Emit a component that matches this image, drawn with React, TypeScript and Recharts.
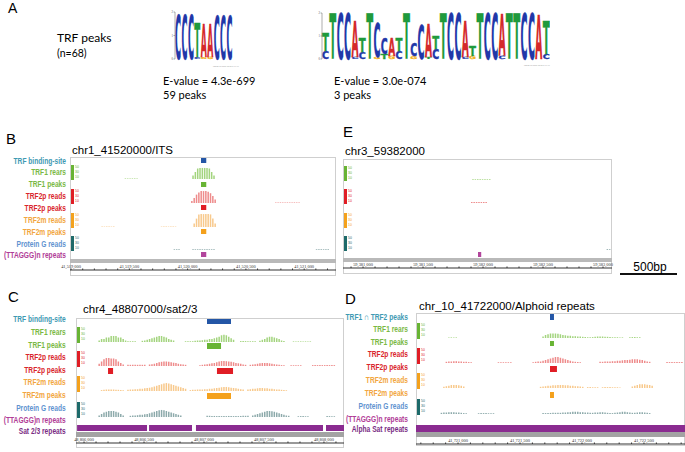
import { BarChart, Bar, XAxis, YAxis, ReferenceArea } from "recharts"

type Seg = { start: number; values: number[] }
type Span = [number, number]

const BIN = 20

// ---- A: motif logos (bits) ----
const motif1Letters = ["C", "C", "C", "T", "A", "A", "C", "C", "C"]
const motif1Bits = [1.87, 1.87, 1.87, 1.46, 1.4, 1.35, 1.8, 1.8, 1.8]
const motif1Minor = ["", "", "", "C", "G", "G", "", "", ""]
const motif1MinorBits = [0, 0, 0, 0.08, 0.08, 0.1, 0, 0, 0]

const motif2Letters = ["T", "T", "C", "C", "A", "T", "T", "C", "C", "A", "T", "T", "C", "C", "A", "T", "T", "C", "C", "A", "T", "T", "C", "C", "A", "T", "T", "C", "C", "A", "T"]
const motif2Bits = [0.8, 1.98, 1.98, 1.98, 1.55, 0.6, 1.98, 1.45, 0.7, 0.8, 0.55, 1.98, 0.55, 1.45, 1.4, 0.55, 1.98, 1.98, 1.98, 1.6, 0.45, 1.98, 1.98, 1.98, 1.8, 1.98, 1.98, 1.98, 1.98, 1.9, 1.4]
const motif2Minor = ["C", "", "", "", "C", "C", "", "G", "T", "G", "C", "", "G", "", "T", "C", "", "", "", "C", "G", "", "", "", "C", "", "", "", "", "", "C"]
const motif2MinorBits = [0.33, 0, 0, 0, 0.1, 0.3, 0, 0.1, 0.2, 0.15, 0.35, 0, 0.12, 0, 0.1, 0.45, 0, 0, 0, 0.1, 0.15, 0, 0, 0, 0.15, 0, 0, 0, 0, 0, 0.2]

// ---- B: chr1_41520000/ITS ----
const bDomain: Span = [41518991, 41521273]
const bTicks = [41519000, 41519500, 41520000, 41520500, 41521000]
const bBinding: Span[] = [[41520115, 41520160]]
const bTrf1Reads: Seg[] = [
  { start: 41520040, values: [2.5, 5, 7.5, 7.9, 7.9, 7.9, 7.9, 7.5, 5, 2.5] },
  { start: 41519460, values: [0.4, 0.4, 0.4, 0.4, 0.4, 0.4] },
]
const bTrf1Peaks: Span[] = [[41520115, 41520160]]
const bTrf2pReads: Seg[] = [
  { start: 41520030, values: [1.5, 3.5, 6, 7.5, 8.5, 8.5, 8.5, 8, 7, 5, 2.5] },
  { start: 41520750, values: [0.4, 0.4, 0.4, 0.4, 0.4, 0.4, 0.4, 0.4, 0.4, 0.4, 0.4] },
]
const bTrf2pPeaks: Span[] = [[41520115, 41520160]]
const bTrf2mReads: Seg[] = [
  { start: 41520050, values: [2.5, 6, 9, 9.2, 9.2, 9.2, 9.2, 9, 6, 2.5] },
  { start: 41519260, values: [0.3, 0.3, 0.3, 0.3, 0.3, 0.3] },
  { start: 41519770, values: [0.3, 0.3, 0.3, 0.3, 0.3, 0.3, 0.3] },
]
const bTrf2mPeaks: Span[] = [[41520115, 41520160]]
const bProtGReads: Seg[] = [
  { start: 41520040, values: [0.5, 0.5, 0.5, 0.5, 0.5, 0.5, 0.5, 0.5, 0.5, 0.5] },
  { start: 41519880, values: [0.5, 0.5, 0.5] },
  { start: 41521100, values: [0.5, 0.5, 0.5, 0.5, 0.5, 0.5] },
]
const bTelomeric: Span[] = [[41520115, 41520160]]

// ---- E: chr3_59382000 ----
const eDomain: Span = [59380833, 59383075]
const eTicks = [59381000, 59381500, 59382000, 59382500, 59383000]
const eTrf1Reads: Seg[] = [{ start: 59381910, values: [0.5, 0.5, 0.5, 0.5, 0.5, 0.5, 0.5, 0.5] }]
const eTrf2pReads: Seg[] = [{ start: 59381900, values: [0.7, 0.7, 0.7, 0.7, 0.7, 0.7, 0.7] }]
const eTrf2mReads: Seg[] = []
const eProtGReads: Seg[] = [{ start: 59383030, values: [0.6, 0.6] }]
const eTelomeric: Span[] = [[59381958, 59381985]]

// ---- C: chr4_48807000/sat2/3 ----
const cDomain: Span = [48805933, 48808167]
const cTicks = [48806000, 48806500, 48807000, 48807500, 48808000]
const cBinding: Span[] = [[48807025, 48807225]]
const cTrf1Reads: Seg[] = [
  { start: 48806120, values: [1, 2, 2, 3, 3, 4, 4, 4, 3, 3, 2, 1] },
  { start: 48806360, values: [0.5, 0.5, 0.5, 0.5] },
  { start: 48806480, values: [0.8, 1, 1.5, 2, 2.5, 3, 3.5, 4, 4, 3.5, 3, 2, 1.5, 1] },
  { start: 48806840, values: [0.5, 0.5, 0.5] },
  { start: 48806900, values: [0.5, 0.8, 1, 1, 1.2, 1.5, 1.5, 2, 2, 2.5, 3, 3.5, 4.5, 4.8, 4.5, 3.5, 2.5, 1.5] },
  { start: 48807300, values: [0.6, 0.6, 0.6, 0.5, 0.5, 0.5, 0.5] },
  { start: 48807460, values: [0.8, 1.5, 2, 3, 3.5, 3.5, 3, 2.5, 2, 1, 0.6] },
  { start: 48807740, values: [0.4, 0.4, 0.4, 0.4, 0.4, 0.4, 0.4, 0.4] },
]
const cTrf1Peaks: Span[] = [[48807025, 48807142]]
const cTrf2pReads: Seg[] = [
  { start: 48806120, values: [1.5, 3, 4.5, 5.3, 5.3, 5, 5, 4.5, 3, 2, 1] },
  { start: 48806360, values: [0.8, 0.8, 0.8, 0.8, 0.8, 0.8, 0.8, 0.8] },
  { start: 48806540, values: [1, 1.2, 1.5, 2, 2.5, 2.8, 3, 3, 2.8, 2.5, 2.2, 2, 1.5, 1.2, 1, 0.8] },
  { start: 48806960, values: [0.5, 0.8, 1, 1.2, 1.5, 1.8, 2, 2.5, 3, 3.3, 3.3, 3.2, 3, 2.8, 2.5, 2, 1.8, 1.5, 1, 0.8] },
  { start: 48807380, values: [0.8, 1, 1.2, 1.5, 1.8, 2, 2, 2, 1.8, 1.5, 1.2, 1, 0.8, 0.6, 0.5] },
  { start: 48807720, values: [0.5, 0.5, 0.5, 0.5, 0.5] },
  { start: 48807900, values: [0.6, 0.6, 0.6, 0.6, 0.6, 0.6, 0.6, 0.6, 0.6, 0.6] },
]
const cTrf2pPeaks: Span[] = [[48806200, 48806242], [48807108, 48807242]]
const cTrf2mReads: Seg[] = [
  { start: 48806140, values: [0.6, 0.8, 1, 1, 1, 1, 0.8, 0.8, 0.6, 0.5] },
  { start: 48806360, values: [0.8, 1, 1, 1.2, 1.2, 1.5, 1.5, 1.8, 2, 2.2, 2.5, 3, 3.5, 4, 4.5, 5, 5.3, 5, 4.5, 4, 3.5, 3, 2.5, 2, 1.5] },
  { start: 48806880, values: [0.6, 0.8, 0.8, 1, 1, 1, 1.2, 1.2, 1.5, 1.5, 1.8, 2, 2.2, 2.5, 2.7, 2.7, 2.5, 2.2, 2, 1.8, 1.5, 1.2, 1] },
  { start: 48807360, values: [1, 1.2, 1.5, 1.5, 1.8, 2, 2, 1.8, 1.8, 1.5, 1.5, 1.2, 1, 1, 0.8, 0.6, 0.5] },
]
const cTrf2mPeaks: Span[] = [[48807025, 48807225]]
const cProtGReads: Seg[] = [
  { start: 48806120, values: [1, 2, 3, 3.5, 4, 4, 4, 3.5, 3, 2, 1] },
  { start: 48806380, values: [0.8, 1, 1, 1.2, 1.5, 1.5, 1.8, 2, 2.5, 3, 3.5, 4, 4.5, 4.7, 4.5, 4, 3.5, 3, 2.5, 2, 1.5, 1] },
  { start: 48807020, values: [0.8, 0.8, 0.7, 0.7, 0.6, 0.6, 0.6, 0.6, 0.6, 0.7, 0.7, 0.6, 0.6, 0.6, 0.7, 0.8, 0.8, 0.8] },
  { start: 48807400, values: [1, 1.5, 2, 2.5, 3, 3.5, 4, 4, 3.8, 3.5, 3, 2.5, 2, 1.5, 1, 0.8] },
  { start: 48807780, values: [0.5, 0.6, 0.6, 0.5, 0.5] },
  { start: 48808020, values: [0.6, 0.6, 0.5, 0.5] },
]
const cSatRepeats: Span[] = [[48805942, 48806525], [48806542, 48806900], [48806933, 48807992], [48808017, 48808200]]

// ---- D: chr_10_41722000/Alphoid repeats ----
const dDomain: Span = [41720661, 41722831]
const dTicks = [41721000, 41721500, 41722000, 41722500]
const dBinding: Span[] = [[41721742, 41721774]]
const dTrf1Reads: Seg[] = [
  { start: 41720920, values: [0.4, 0.4, 0.4, 0.4] },
  { start: 41721680, values: [1, 2, 2.5, 3, 3, 3, 2.8, 2.5, 2, 1.8, 1.5, 1.5, 1.2, 1.2, 1, 1, 0.8] },
  { start: 41722020, values: [0.6, 0.5, 0.5, 0.6, 0.8, 1, 1, 1, 0.8, 0.8, 0.6, 0.5, 0.5, 0.5, 0.4, 0.4] },
  { start: 41722380, values: [0.5, 0.6, 0.6, 0.5, 0.5] },
]
const dTrf1Peaks: Span[] = [[41721742, 41721774]]
const dTrf2pReads: Seg[] = [
  { start: 41720900, values: [0.8, 1, 1, 1.2, 1.2, 1, 1, 0.8, 0.8, 0.6, 0.5] },
  { start: 41721320, values: [0.5, 0.5, 0.5, 0.5, 0.5, 0.5] },
  { start: 41721600, values: [0.5, 0.8, 1, 1, 1.5, 2, 2.5, 3, 3.5, 4, 4, 3.5, 3, 2.5, 2, 1.5, 1, 0.8, 0.6, 0.5] },
  { start: 41722140, values: [0.8, 0.8, 1, 1, 1, 1.2, 1.2, 1.5, 1.5, 1.8, 2, 2, 2.2, 2.5, 2.5, 2.5, 2.2, 2, 1.5, 1, 0.8] },
  { start: 41722680, values: [0.6, 0.6, 0.6, 0.6, 0.6, 0.6, 0.6] },
]
const dTrf2pPeaks: Span[] = [[41721742, 41721798]]
const dTrf2mReads: Seg[] = [
  { start: 41720880, values: [0.8, 1.2, 1.5, 2, 2, 2, 1.8, 1.5, 1] },
  { start: 41721660, values: [0.8, 1, 1.2, 1.5, 1.5, 1.8, 1.8, 2, 2, 2, 1.8, 1.8, 1.5, 1.5, 1.2, 1.2, 1, 0.8] },
  { start: 41722040, values: [0.6, 0.6, 0.5, 0.5, 0.5] },
  { start: 41722160, values: [0.5, 0.6, 0.6, 0.6, 0.5, 0.5, 0.5, 0.4] },
  { start: 41722400, values: [1, 1.5, 2, 2.5, 2.5, 2.5, 2.2, 2, 1.5] },
]
const dTrf2mPeaks: Span[] = [[41721742, 41721774]]
const dProtGReads: Seg[] = [
  { start: 41720860, values: [0.8, 1, 1, 1.2, 1.2, 1.2, 1, 1, 0.8, 0.6, 0.5] },
  { start: 41721160, values: [0.5, 0.6, 0.6, 0.6, 0.5, 0.5, 0.5] },
  { start: 41721680, values: [0.6, 0.6, 0.7, 0.7, 0.8, 0.8, 0.8, 0.8, 1, 1, 1.2, 1.2, 1.5, 1.5, 1.5, 1.2, 1.2, 1, 1, 0.8, 0.8, 1, 1, 1.2, 1.2, 1, 0.8, 0.6, 0.6, 0.8, 1, 1.2, 1.5, 1.5, 1.2, 1, 0.8, 0.8, 1, 1.2, 1.2, 1, 0.8, 0.6] },
]
const dAlphaSat: Span[] = [[41720661, 41722831]]

const bcLabels = ["TRF binding-site", "TRF1 rears", "TRF1 peaks", "TRF2p reads", "TRF2p peaks", "TRF2m reads", "TRF2m peaks", "Protein G reads", "(TTAGGG)n repeats"]
const cExtraLabel = "Sat 2/3 repeats"
const dLabels = ["TRF1 \u2229 TRF2 peaks", "TRF1 rears", "TRF1 peaks", "TRF2p  reads", "TRF2p peaks", "TRF2m reads", "TRF2m peaks", "Protein G reads", "(TTAGGG)n repeats", "Alpha Sat repeats"]
const rangeTicks = ["50", "30", "10"]

const COL = {
  bind: "#2456a6",
  trf1: "#68b434",
  trf1Read: "#a3d47e",
  trf2p: "#e01d25",
  trf2pRead: "#ee8b8b",
  trf2m: "#f4a11c",
  trf2mRead: "#f8c98c",
  protG: "#1d6a6a",
  protGRead: "#8daaab",
  telo: "#b2459c",
  sat: "#8a2b90",
}
const LABEL_COL = ["#3f9ab3", "#7ab944", "#7ab944", "#d9262c", "#d9262c", "#f2a640", "#f2a640", "#5f93d0", "#b13d97", "#7a2c84"]
const LETTER_COL: Record<string, string> = { A: "#d4292b", C: "#2137a8", G: "#f3b21b", T: "#1f9a3c" }
// DejaVu Sans Bold advance widths and cap height, em units
const LETTER_ADV: Record<string, number> = { A: 0.774, C: 0.734, G: 0.821, T: 0.682 }
const CAP = 0.729
const SANS = "Liberation Sans, Arial, sans-serif"
const LATO = "Lato, sans-serif"
const ZERO = { top: 0, right: 0, bottom: 0, left: 0 }

function binned(segs: Seg[]) {
  return segs.flatMap((s) => s.values.map((v, i) => ({ pos: s.start + i * BIN + BIN / 2, v })))
}

// one logo letter, squeezed to fill its stacked bar
function Glyph(props: any) {
  const { x, y, width, height, ch } = props
  if (!ch || !(height > 0.3)) return null
  const fs = height / CAP
  const sx = width / (LETTER_ADV[ch] * fs)
  const c = LETTER_COL[ch]
  return (
    <text transform={`translate(${x},${y + height}) scale(${sx},1)`} fontSize={fs} fontFamily="DejaVu Sans, sans-serif"
      fontWeight="bold" fill={c} stroke={c} strokeWidth={0.35} vectorEffect="non-scaling-stroke">{ch}</text>
  )
}

function Logo({ left, top, w, h, letters, bits, minor, minorBits }: any) {
  const data = letters.map((l: string, i: number) => ({ pos: i + 1, base: minorBits[i], main: bits[i], baseL: minor[i], mainL: l }))
  const yw = 5
  const padTop = 16
  const padBottom = 14
  return (
    <div style={{ position: "absolute", left: left - yw, top: top - padTop }}>
      <BarChart width={w + yw} height={h + 4 + padTop + padBottom} data={data}
        margin={{ top: padTop, right: 0, bottom: padBottom, left: 0 }} barCategoryGap={0}>
        <XAxis dataKey="pos" height={4} tick={false} tickSize={1} axisLine={false} tickLine={{ stroke: "#999", strokeWidth: 0.5 }} />
        <YAxis domain={[0, 2]} ticks={[0, 1, 2]} width={yw} tickSize={1.5} tickMargin={0.5}
          tick={{ fontSize: 3, fill: "#555" }} axisLine={{ stroke: "#777", strokeWidth: 0.6 }} tickLine={{ stroke: "#777", strokeWidth: 0.6 }} />
        <Bar dataKey="base" stackId="s" isAnimationActive={false} shape={(p: any) => <Glyph {...p} ch={p.payload.baseL} />} />
        <Bar dataKey="main" stackId="s" isAnimationActive={false} shape={(p: any) => <Glyph {...p} ch={p.payload.mainL} />} />
      </BarChart>
    </div>
  )
}

function Reads({ x, y, w, h, domain, segs, color }: any) {
  if (!segs.length) return null
  return (
    <div style={{ position: "absolute", left: x, top: y }}>
      <BarChart width={w} height={h} data={binned(segs)} margin={ZERO}>
        <XAxis type="number" dataKey="pos" domain={domain} hide allowDataOverflow />
        <YAxis type="number" domain={[0, 10]} hide allowDataOverflow />
        <Bar dataKey="v" fill={color} barSize={1.5} isAnimationActive={false} />
      </BarChart>
    </div>
  )
}

function Features({ x, y, w, h, domain, spans, color }: any) {
  if (!spans.length) return null
  const data = spans.map(([a, b]: Span) => ({ pos: (a + b) / 2, v: 0 }))
  return (
    <div style={{ position: "absolute", left: x, top: y }}>
      <BarChart width={w} height={h} data={data} margin={ZERO}>
        <XAxis type="number" dataKey="pos" domain={domain} hide allowDataOverflow />
        <YAxis type="number" domain={[0, 1]} hide />
        <Bar dataKey="v" fill="none" isAnimationActive={false} />
        {spans.map(([a, b]: Span, i: number) => (
          <ReferenceArea key={i} x1={a} x2={b} y1={0} y2={1} fill={color} fillOpacity={1} stroke="none" ifOverflow="hidden" />
        ))}
      </BarChart>
    </div>
  )
}

// IGV style ruler: minor tick every 100 bp, labels on the 500 bp ticks
function Ruler({ x, y, w, domain, ticks }: any) {
  const minor: number[] = []
  for (let t = Math.ceil(domain[0] / 100) * 100; t <= domain[1]; t += 100) minor.push(t)
  const pad = 12
  return (
    <div style={{ position: "absolute", left: x - pad, top: y }}>
      <BarChart width={w + 2 * pad} height={10} data={ticks.map((t: number) => ({ pos: t }))} margin={{ top: 0, bottom: 0, left: pad, right: pad }}>
        <XAxis orientation="top" type="number" dataKey="pos" domain={domain} allowDataOverflow ticks={minor} interval={0}
          height={8} tickSize={1.5} tickMargin={0.3} stroke="#333" tick={{ fontSize: 4.4, fill: "#333" }}
          tickFormatter={(v: number) => (ticks.includes(v) ? v.toLocaleString("en-US") : "")} />
        <YAxis hide />
      </BarChart>
    </div>
  )
}

type Row = { top: number; h: number; segs?: Seg[]; spans?: Span[]; color: string; ink?: string }

function Panel({ box, domain, ticks, rows, rulerTop }: any) {
  return (
    <>
      {rows.map((r: Row, i: number) =>
        r.segs ? (
          <Reads key={i} x={box.x} y={r.top} w={box.w} h={r.h} domain={domain} segs={r.segs} color={r.ink} />
        ) : (
          <Features key={i} x={box.x} y={r.top} w={box.w} h={r.h} domain={domain} spans={r.spans} color={r.color} />
        )
      )}
      <Ruler x={box.x} y={rulerTop} w={box.w} domain={domain} ticks={ticks} />
    </>
  )
}

function Decor({ box, rows, gray, labels, labelX, labelY }: any) {
  return (
    <g>
      <rect x={box.x + 0.5} y={box.y + 0.5} width={box.w - 1} height={box.h - 1} fill="#fff" stroke="#cfcfcf" />
      {rows.filter((r: Row) => r.segs).map((r: Row, i: number) => (
        <g key={i}>
          <rect x={box.x + 1} y={r.top} width={3} height={r.h + 1} fill={r.color} />
          {rangeTicks.map((t, k) => (
            <text key={k} x={box.x + 5} y={r.top + 2.5 + k * 5} fontSize={3.4} fill={r.color} fontFamily={SANS}>{t}</text>
          ))}
        </g>
      ))}
      <rect x={box.x} y={gray.top} width={box.w} height={gray.h} fill={gray.color} />
      {labels &&
        labels.map((t: string, i: number) => (
          <text key={i} transform={`translate(${labelX},${labelY[i]}) scale(0.74,1)`} textAnchor="end" dominantBaseline="central"
            fontSize={9} fontWeight="bold" fill={LABEL_COL[i]} fontFamily={SANS}>{t}</text>
        ))}
    </g>
  )
}

export default function App() {
  const bBox = { x: 70, y: 157, w: 266, h: 119 }
  const bRows: Row[] = [
    { top: 158, h: 5, spans: bBinding, color: COL.bind },
    { top: 165, h: 14, segs: bTrf1Reads, color: COL.trf1, ink: COL.trf1Read },
    { top: 182, h: 5, spans: bTrf1Peaks, color: COL.trf1 },
    { top: 189, h: 14, segs: bTrf2pReads, color: COL.trf2p, ink: COL.trf2pRead },
    { top: 205, h: 5, spans: bTrf2pPeaks, color: COL.trf2p },
    { top: 213, h: 14, segs: bTrf2mReads, color: COL.trf2m, ink: COL.trf2mRead },
    { top: 229, h: 5, spans: bTrf2mPeaks, color: COL.trf2m },
    { top: 236, h: 14, segs: bProtGReads, color: COL.protG, ink: COL.protGRead },
    { top: 252, h: 5, spans: bTelomeric, color: COL.telo },
  ]
  const eBox = { x: 343, y: 159, w: 269, h: 115 }
  const eRows: Row[] = [
    { top: 166, h: 14, segs: eTrf1Reads, color: COL.trf1, ink: COL.trf1Read },
    { top: 189, h: 14, segs: eTrf2pReads, color: COL.trf2p, ink: COL.trf2pRead },
    { top: 213, h: 14, segs: eTrf2mReads, color: COL.trf2m, ink: COL.trf2mRead },
    { top: 236, h: 14, segs: eProtGReads, color: COL.protG, ink: COL.protGRead },
    { top: 252, h: 5, spans: eTelomeric, color: COL.telo },
  ]
  const cBox = { x: 76, y: 318, w: 268, h: 130 }
  const cRows: Row[] = [
    { top: 319, h: 5, spans: cBinding, color: COL.bind },
    { top: 327, h: 15, segs: cTrf1Reads, color: COL.trf1, ink: COL.trf1Read },
    { top: 343, h: 6, spans: cTrf1Peaks, color: COL.trf1 },
    { top: 351, h: 15, segs: cTrf2pReads, color: COL.trf2p, ink: COL.trf2pRead },
    { top: 368, h: 6, spans: cTrf2pPeaks, color: COL.trf2p },
    { top: 376, h: 15, segs: cTrf2mReads, color: COL.trf2m, ink: COL.trf2mRead },
    { top: 393, h: 6, spans: cTrf2mPeaks, color: COL.trf2m },
    { top: 402, h: 15, segs: cProtGReads, color: COL.protG, ink: COL.protGRead },
    { top: 425, h: 6, spans: cSatRepeats, color: COL.sat },
  ]
  const dBox = { x: 416, y: 313, w: 269, h: 133 }
  const dRows: Row[] = [
    { top: 314, h: 6, spans: dBinding, color: COL.bind },
    { top: 323, h: 15, segs: dTrf1Reads, color: COL.trf1, ink: COL.trf1Read },
    { top: 341, h: 5, spans: dTrf1Peaks, color: COL.trf1 },
    { top: 348, h: 15, segs: dTrf2pReads, color: COL.trf2p, ink: COL.trf2pRead },
    { top: 366, h: 6, spans: dTrf2pPeaks, color: COL.trf2p },
    { top: 373, h: 15, segs: dTrf2mReads, color: COL.trf2m, ink: COL.trf2mRead },
    { top: 392, h: 6, spans: dTrf2mPeaks, color: COL.trf2m },
    { top: 399, h: 15, segs: dProtGReads, color: COL.protG, ink: COL.protGRead },
    { top: 425, h: 7, spans: dAlphaSat, color: COL.sat },
  ]

  return (
    <div style={{ position: "absolute", left: 0, top: 0, width: 685, height: 452, background: "#fff", overflow: "hidden" }}>
      <svg width={685} height={452} style={{ position: "absolute", left: 0, top: 0 }}>
        {/* panel A */}
        <text x={8} y={13} fontSize={14} fontFamily={SANS}>A</text>
        <text x={57} y={42} fontSize={12} fontFamily={LATO}>TRF peaks</text>
        <text x={57} y={57} fontSize={10.5} fontFamily={LATO}>(n=68)</text>
        <text x={163} y={85} fontSize={11} fontFamily={LATO}>E-value = 4.3e-699</text>
        <text x={163} y={98.5} fontSize={11} fontFamily={LATO}>59 peaks</text>
        <text x={334} y={85} fontSize={11} fontFamily={LATO}>E-value = 3.0e-074</text>
        <text x={334} y={98.5} fontSize={11} fontFamily={LATO}>3 peaks</text>
        <text x={213} y={67} fontSize={1.8} fill="#999" fontFamily={SANS}>MEME (no SSC) 12.02.14 14:46</text>
        <text x={524} y={66} fontSize={1.8} fill="#999" fontFamily={SANS}>MEME (no SSC) 12.02.14 14:46</text>

        {/* panel titles */}
        <text x={6} y={144} fontSize={15} fontFamily={SANS}>B</text>
        <text x={72} y={154} fontSize={11.5} fontFamily={SANS}>chr1_41520000/ITS</text>
        <text x={343} y={137} fontSize={15} fontFamily={SANS}>E</text>
        <text x={345} y={155} fontSize={11.5} fontFamily={SANS}>chr3_59382000</text>
        <text x={8} y={302} fontSize={15} fontFamily={SANS}>C</text>
        <text x={83} y={313} fontSize={11.5} fontFamily={SANS}>chr4_48807000/sat2/3</text>
        <text x={345} y={304} fontSize={15} fontFamily={SANS}>D</text>
        <text x={419} y={310} fontSize={11.5} fontFamily={SANS}>chr_10_41722000/Alphoid repeats</text>

        <Decor box={bBox} rows={bRows} gray={{ top: 259, h: 4, color: "#b9b9b9" }} labels={bcLabels} labelX={66}
          labelY={[160.7, 172.3, 184, 196, 208, 220, 231.7, 243.7, 255.3]} />
        <Decor box={eBox} rows={eRows} gray={{ top: 258, h: 4, color: "#b9b9b9" }} />
        <Decor box={cBox} rows={cRows} gray={{ top: 432, h: 5, color: "#a3a3a3" }} labels={[...bcLabels, cExtraLabel]} labelX={65.7}
          labelY={[319.3, 332, 345, 357.3, 370, 382.3, 395, 407.7, 420, 430.7]} />
        <Decor box={dBox} rows={dRows} gray={{ top: 432, h: 5, color: "#a3a3a3" }} labels={dLabels} labelX={408}
          labelY={[317.3, 328.7, 341.7, 354.3, 367.3, 380, 393.3, 406, 419, 428.7]} />

        {/* 500bp scale bar */}
        <line x1={620} x2={677} y1={274} y2={274} stroke="#111" strokeWidth={2} />
        <text x={650} y={271} fontSize={12} textAnchor="middle" fontFamily={SANS}>500bp</text>
      </svg>

      <Logo left={175} top={12} w={58} h={47} letters={motif1Letters} bits={motif1Bits} minor={motif1Minor} minorBits={motif1MinorBits} />
      <Logo left={322} top={13} w={228} h={46} letters={motif2Letters} bits={motif2Bits} minor={motif2Minor} minorBits={motif2MinorBits} />

      <Panel box={bBox} domain={bDomain} ticks={bTicks} rows={bRows} rulerTop={262} />
      <Panel box={eBox} domain={eDomain} ticks={eTicks} rows={eRows} rulerTop={260} />
      <Panel box={cBox} domain={cDomain} ticks={cTicks} rows={cRows} rulerTop={435} />
      <Panel box={dBox} domain={dDomain} ticks={dTicks} rows={dRows} rulerTop={436} />
    </div>
  )
}
